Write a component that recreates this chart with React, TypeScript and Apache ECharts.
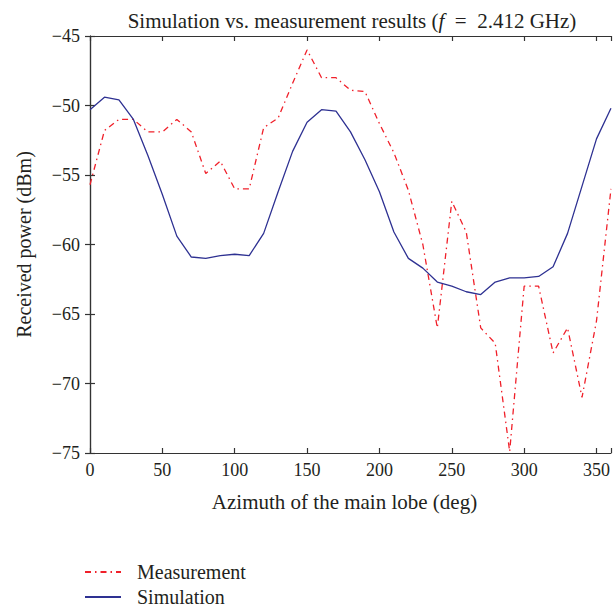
import React, { useEffect, useRef } from "react";
import * as echarts from "echarts";

const azimuth = [0, 10, 20, 30, 40, 50, 60, 70, 80, 90, 100, 110, 120, 130, 140, 150, 160, 170, 180, 190, 200, 210, 220, 230, 240, 250, 260, 270, 280, 290, 300, 310, 320, 330, 340, 350, 360];
const measurement = [-55.7, -51.8, -51.0, -51.0, -51.9, -51.9, -51.0, -51.9, -54.9, -54.0, -56.0, -56.0, -51.6, -50.9, -48.4, -46.0, -48.0, -48.0, -48.9, -49.0, -51.3, -53.4, -56.1, -60.0, -66.0, -56.9, -59.1, -66.0, -67.1, -74.9, -63.0, -63.0, -67.8, -66.0, -71.0, -65.5, -56.0];
const simulation = [-50.3, -49.4, -49.6, -51.0, -53.6, -56.4, -59.4, -60.9, -61.0, -60.8, -60.7, -60.8, -59.2, -56.2, -53.3, -51.2, -50.3, -50.4, -51.9, -53.9, -56.2, -59.1, -61.0, -61.7, -62.7, -63.0, -63.4, -63.6, -62.7, -62.4, -62.4, -62.3, -61.6, -59.2, -55.8, -52.4, -50.2];
const xTicks = [0, 50, 100, 150, 200, 250, 300, 350];
const yTicks = [-75, -70, -65, -60, -55, -50, -45];

const FONT = "Liberation Serif";
const TXT = "#231f20";
const RED = "#f0202a";
const BLUE = "#2e3192";

export default function App() {
  const ref = useRef<HTMLDivElement>(null);
  useEffect(() => {
    document.body.style.margin = "0";
    const chart = echarts.init(ref.current!, undefined, { renderer: "svg" });
    const axisLine = { show: true, lineStyle: { color: "#333", width: 1.2 } };
    const axisTick = { show: true, inside: true, length: 5, lineStyle: { color: "#333", width: 1.2 } };
    const minus = (v: number) => String(v).replace("-", "\u2212");
    chart.setOption({
      animation: false,
      backgroundColor: "#fff",
      title: {
        text: "Simulation vs. measurement results ({i|f}  =  2.412 GHz)",
        left: 347,
        textAlign: "center",
        top: 5,
        textStyle: {
          fontFamily: FONT,
          fontWeight: "normal",
          fontSize: 21,
          color: TXT,
          rich: { i: { fontStyle: "italic", fontFamily: FONT, fontSize: 21, color: TXT } },
        },
      },
      grid: { left: 90, right: 0, top: 36, bottom: 156, containLabel: false },
      legend: {
        orient: "vertical",
        left: 84,
        top: 562,
        height: 60,
        padding: 0,
        itemWidth: 36,
        itemHeight: 14,
        itemGap: 5,
        itemStyle: { opacity: 0 },
        textStyle: { fontFamily: FONT, fontSize: 20, lineHeight: 14, color: TXT, padding: [0, 0, 0, 11] },
        data: ["Measurement", "Simulation"],
      },
      xAxis: [
        {
          type: "value",
          min: 0,
          max: 360,
          interval: 50,
          position: "bottom",
          name: "Azimuth of the main lobe (deg)",
          nameLocation: "middle",
          nameGap: 38,
          nameTextStyle: { fontFamily: FONT, fontSize: 21, color: TXT, padding: [0, 12, 0, 0] },
          axisLine,
          axisTick,
          splitLine: { show: false },
          axisLabel: {
            fontFamily: FONT,
            fontSize: 18,
            color: TXT,
            margin: 8,
            customValues: xTicks,
          },
        },
        {
          type: "value",
          min: 0,
          max: 360,
          interval: 50,
          position: "top",
          axisLine,
          axisTick,
          splitLine: { show: false },
          axisLabel: { show: false },
        },
      ],
      yAxis: [
        {
          type: "value",
          min: -75,
          max: -45,
          interval: 5,
          position: "left",
          name: "Received power (dBm)",
          nameLocation: "middle",
          nameGap: 56,
          nameRotate: 90,
          nameTextStyle: { fontFamily: FONT, fontSize: 20, color: TXT },
          axisLine,
          axisTick,
          splitLine: { show: false },
          axisLabel: {
            fontFamily: FONT,
            fontSize: 18,
            color: TXT,
            margin: 10,
            formatter: minus,
            customValues: yTicks,
          },
        },
        {
          type: "value",
          min: -75,
          max: -45,
          interval: 5,
          position: "right",
          axisLine,
          axisTick,
          splitLine: { show: false },
          axisLabel: { show: false },
        },
      ],
      series: [
        {
          name: "Measurement",
          type: "line",
          data: azimuth.map((a, i) => [a, measurement[i]]),
          symbol: "none",
          itemStyle: { color: RED },
          lineStyle: { color: RED, width: 1.3, type: [6, 4, 1.5, 4] },
        },
        {
          name: "Simulation",
          type: "line",
          data: azimuth.map((a, i) => [a, simulation[i]]),
          symbol: "none",
          itemStyle: { color: BLUE },
          lineStyle: { color: BLUE, width: 1.3 },
        },
      ],
    });
    return () => chart.dispose();
  }, []);
  return <div ref={ref} style={{ position: "fixed", left: 0, top: 0, width: 613, height: 609 }} />;
}
